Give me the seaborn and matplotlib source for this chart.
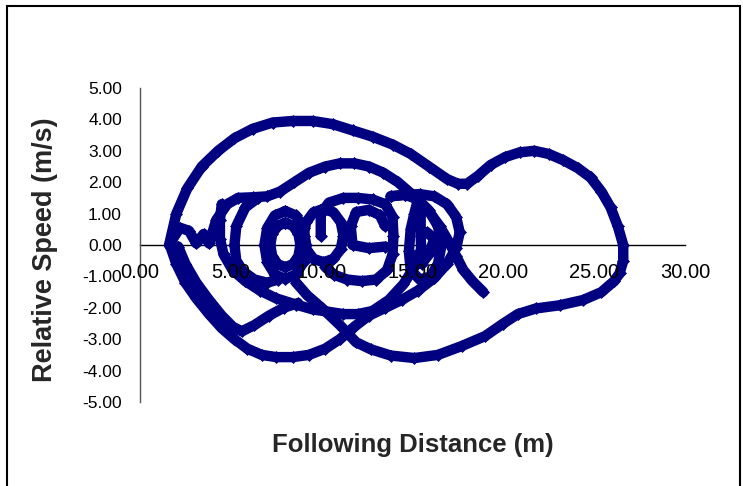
import matplotlib
matplotlib.use("Agg")
import matplotlib.pyplot as plt
import seaborn as sns
from matplotlib.patches import Rectangle
from matplotlib.ticker import FixedLocator, FormatStrFormatter

# ---- data ----
# big outer loop, ending where it runs up into the left ring
outer_x = [1.6, 2.0, 2.6, 3.4, 4.3, 5.2, 6.2, 7.3, 8.4, 9.5, 10.6, 11.7, 12.8, 13.9, 14.9, 15.9,
           16.9, 17.5, 18.0, 18.6, 19.3, 20.1, 20.9, 21.7, 22.5, 23.3, 24.1, 24.8, 25.4, 25.9,
           26.3, 26.6, 26.6, 26.4, 26.1, 25.4, 24.4, 23.1, 21.8, 20.8, 20.0, 19.0, 17.7, 16.4,
           15.1, 13.8, 12.7, 11.9, 11.0, 10.0, 9.2, 8.6]
outer_y = [0.0, 1.0, 1.8, 2.5, 3.0, 3.4, 3.7, 3.9, 3.95, 3.95, 3.85, 3.65, 3.45, 3.2, 2.9, 2.5,
           2.1, 1.95, 1.95, 2.2, 2.55, 2.8, 2.95, 3.0, 2.9, 2.7, 2.45, 2.15, 1.7, 1.2,
           0.6, 0.0, -0.5, -0.9, -1.15, -1.5, -1.75, -1.92, -2.02, -2.2, -2.5, -2.9, -3.22, -3.5,
           -3.6, -3.52, -3.32, -3.1, -2.55, -2.0, -1.6, -1.2]

# lower-left arc that crosses the outer loop and climbs to the right-hand loops
lower_x = [1.7, 2.0, 2.5, 3.1, 3.8, 4.5, 5.2, 5.9, 6.7, 7.5, 8.4, 9.3, 10.2, 11.0, 11.8, 12.6,
           13.5, 14.4, 15.3, 16.2, 16.9, 17.4, 17.6, 17.4, 16.9, 16.2, 15.4, 14.6, 13.8]
lower_y = [-0.1, -0.6, -1.2, -1.7, -2.2, -2.65, -3.0, -3.3, -3.5, -3.57, -3.57, -3.5, -3.3, -3.0,
           -2.6, -2.25, -2.0, -1.75, -1.45, -1.05, -0.6, -0.1, 0.4, 0.9, 1.3, 1.55, 1.62, 1.6, 1.55]

# second lower-left stroke, turning up towards the centre
second_x = [2.1, 2.5, 3.1, 3.8, 4.5, 5.1, 5.6, 6.3, 7.1, 7.9, 8.7]
second_y = [-0.05, -0.6, -1.2, -1.75, -2.25, -2.6, -2.75, -2.55, -2.25, -2.0, -1.85]

# middle arc under the central loops
mid_x = [4.5, 4.4, 4.4, 4.6, 5.1, 5.8, 6.6, 7.5, 8.6, 9.5, 10.3, 11.2, 12.0, 12.8, 13.7,
         14.5, 15.1, 15.5]
mid_y = [1.3, 0.8, 0.2, -0.3, -0.8, -1.15, -1.45, -1.7, -1.9, -2.05, -2.12, -2.2, -2.2, -2.1,
         -1.75, -1.25, -0.7, -0.1]

# left zig-zag, upper 1.5 band, 2.5 arc and the final tail
upper_x = [1.7, 2.2, 2.7, 3.1, 3.5, 3.8, 4.2, 4.8, 5.4, 6.2, 7.0, 7.7, 8.5, 9.3, 10.2, 11.0,
           11.8, 12.6, 13.4, 14.2, 15.0, 15.8, 16.5, 17.0, 17.4, 17.8, 18.3, 18.9]
upper_y = [0.1, 0.55, 0.45, 0.05, 0.35, 0.05, 0.8, 1.3, 1.5, 1.52, 1.55, 1.7, 2.0, 2.3, 2.5,
           2.6, 2.6, 2.5, 2.3, 2.0, 1.6, 1.15, 0.6, 0.1, -0.35, -0.8, -1.15, -1.5]

# inner D stroke to the left ring
inner_x = [6.5, 5.8, 5.3, 5.2, 5.3, 5.7, 6.3, 7.0, 7.6]
inner_y = [1.5, 1.2, 0.6, 0.0, -0.5, -0.85, -1.1, -1.2, -1.1]

ring1o_x = [8.0, 8.58, 9.0, 9.15, 9.0, 8.58, 8.0, 7.42, 7.0, 6.85, 7.0, 7.42, 8.0]
ring1o_y = [1.08, 0.94, 0.54, 0.0, -0.54, -0.94, -1.08, -0.94, -0.54, 0.0, 0.54, 0.94, 1.08]
ring1i_x = [8.0, 8.42, 8.72, 8.83, 8.72, 8.42, 8.0, 7.58, 7.28, 7.17, 7.28, 7.58, 8.0]
ring1i_y = [0.71, 0.61, 0.36, 0.0, -0.36, -0.61, -0.71, -0.61, -0.36, 0.0, 0.36, 0.61, 0.71]

ring2_x = [10.1, 10.65, 11.05, 11.2, 11.05, 10.65, 10.1, 9.55, 9.15, 9.0, 9.15, 9.55, 10.1]
ring2_y = [1.15, 1.04, 0.73, 0.3, -0.13, -0.44, -0.55, -0.44, -0.13, 0.3, 0.73, 1.04, 1.15]

loop3_x = [9.95, 9.95, 10.4, 11.2, 12.0, 12.8, 13.5, 13.9, 13.95, 13.9, 13.6, 13.0, 12.2,
           11.4, 10.7, 10.2]
loop3_y = [0.3, 1.0, 1.35, 1.5, 1.5, 1.45, 1.3, 0.9, 0.3, -0.3, -0.8, -1.1, -1.15,
           -1.1, -0.95, -0.7]
small_x = [13.5, 12.6, 11.7, 11.6, 11.9, 12.6, 13.2, 13.5]
small_y = [-0.05, -0.1, 0.0, 0.6, 1.05, 1.12, 0.95, 0.6]

loop4_x = [13.8, 14.6, 15.3, 15.9, 16.4, 16.6, 16.4, 16.0, 15.4, 14.9, 14.8, 14.9, 15.1, 15.3]
loop4_y = [1.55, 1.6, 1.45, 1.1, 0.6, 0.0, -0.6, -1.0, -1.1, -0.8, -0.2, 0.5, 1.0, 1.45]
bar_x = [15.45, 15.45, 15.5, 15.9, 16.2, 15.8]
bar_y = [1.3, 0.3, -0.6, -0.3, 0.2, 0.4]

segments = [(outer_x, outer_y), (lower_x, lower_y), (second_x, second_y), (mid_x, mid_y),
            (upper_x, upper_y), (inner_x, inner_y), (ring1o_x, ring1o_y),
            (ring1i_x, ring1i_y), (ring2_x, ring2_y), (loop3_x, loop3_y),
            (small_x, small_y), (loop4_x, loop4_y), (bar_x, bar_y)]

x_ticks = [0, 5, 10, 15, 20, 25, 30]
y_ticks = [-5, -4, -3, -2, -1, 0, 1, 2, 3, 4, 5]

# ---- figure ----
sns.set_style("white")
plt.rcParams['font.family'] = ['Liberation Sans', 'DejaVu Sans']

fig = plt.figure(figsize=(7.43, 4.86), dpi=100)
ax = fig.add_axes([140/743, 1-402/486, 545/743, 314/486])

navy = "#000080"
for sx, sy in segments:
    sns.lineplot(x=sx, y=sy, ax=ax, sort=False, estimator=None, color=navy,
                 linewidth=7.5, marker="D", markersize=6.5, markeredgecolor=navy,
                 markeredgewidth=0.5, solid_joinstyle='round', solid_capstyle='round')

ax.set_xlim(0, 30)
ax.set_ylim(-5, 5)
ax.xaxis.set_major_locator(FixedLocator(x_ticks))
ax.yaxis.set_major_locator(FixedLocator(y_ticks))
ax.xaxis.set_major_formatter(FormatStrFormatter('%.2f'))
ax.yaxis.set_major_formatter(FormatStrFormatter('%.2f'))

for s in ['top', 'right']:
    ax.spines[s].set_visible(False)
ax.spines['bottom'].set_position(('data', 0))
ax.spines['bottom'].set_color('black')
ax.spines['left'].set_color('#555555')
ax.spines['bottom'].set_linewidth(1.0)
ax.spines['left'].set_linewidth(1.0)
ax.spines['bottom'].set_zorder(1)
ax.set_axisbelow(False)

ax.tick_params(axis='x', direction='out', length=4, width=1, pad=9, labelsize=14.5,
               colors='black')
ax.tick_params(axis='y', direction='out', length=5, width=1, pad=8, labelsize=12.5,
               colors='black')
ax.tick_params(axis='y', color='#555555')

ax.set_xlabel("Following Distance (m)", fontsize=18.5, fontweight='bold', va='center')
ax.xaxis.set_label_coords(0.5, (402-445)/314)
ax.set_ylabel("Relative Speed (m/s)", fontsize=19.5, fontweight='bold', va='center')
ax.yaxis.set_label_coords((45-140)/545, (402-250)/314)

fig.patches.append(Rectangle((7/743, -0.05), 733/743, 1.05-6/486, transform=fig.transFigure,
                             fill=False, edgecolor='black', linewidth=1.5))

fig.savefig("out.png", dpi=100)
